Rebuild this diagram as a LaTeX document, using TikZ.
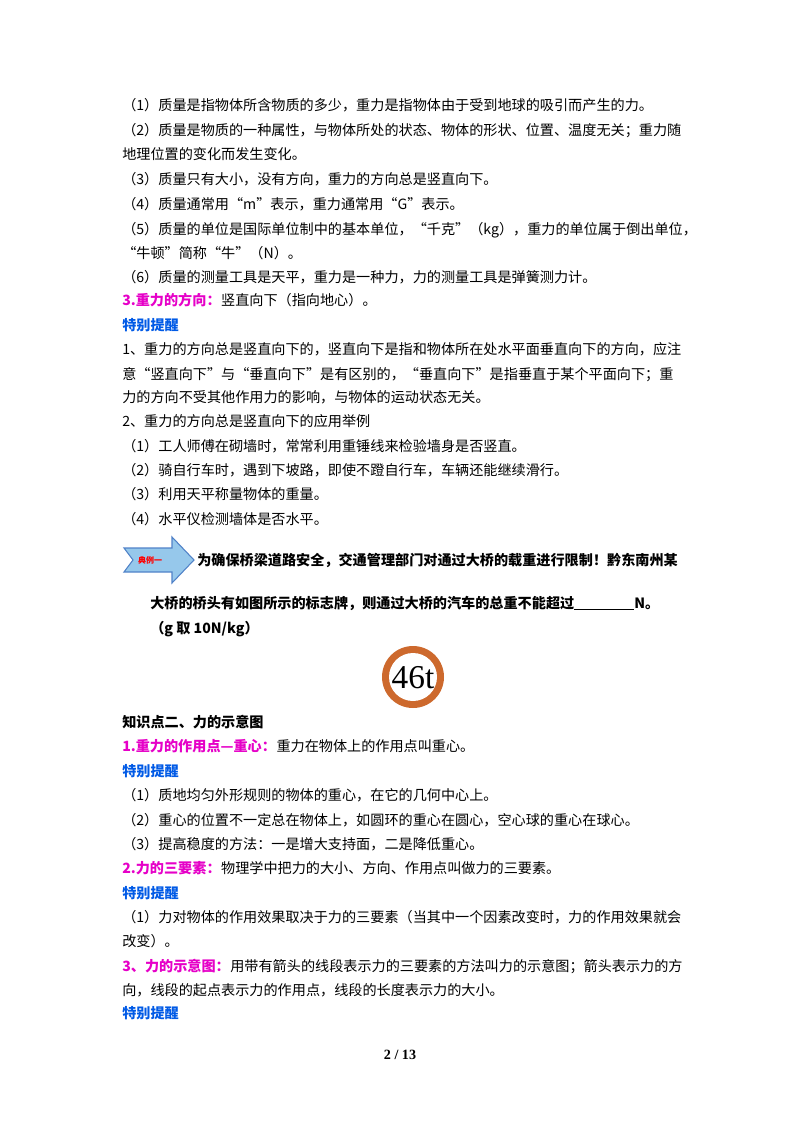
\documentclass[tikz,border=0pt]{standalone}
\usepackage{fontspec}
\setmainfont{Liberation Serif}
\newfontfamily\cjk{Noto Sans CJK SC}
\definecolor{mag}{RGB}{230,0,200}
\definecolor{tb}{RGB}{0,90,230}
\definecolor{arrowfill}{RGB}{150,200,235}
\definecolor{arrowline}{RGB}{80,130,200}
\definecolor{ring}{RGB}{205,105,45}
\begin{document}
\begin{tikzpicture}[x=0.75pt,y=-0.75pt,
  t/.style={anchor=base west,inner sep=0pt,font=\cjk\fontsize{10.6pt}{12pt}\selectfont},
  b/.style={t,font=\cjk\bfseries\fontsize{10.6pt}{12pt}\selectfont}]
\useasboundingbox (0,0) rectangle (800,1132);
\fill[white] (0,0) rectangle (800,1132);
\node[t] (l1) at (122,110) {（1）质量是指物体所含物质的多少，重力是指物体由于受到地球的吸引而产生的力。};
\node[t] (l2) at (122,135) {（2）质量是物质的一种属性，与物体所处的状态、物体的形状、位置、温度无关；重力随};
\node[t] (l3) at (122,159) {地理位置的变化而发生变化。};
\node[t] (l4) at (122,184) {（3）质量只有大小，没有方向，重力的方向总是竖直向下。};
\node[t] (l5) at (122,209) {（4）质量通常用“m”表示，重力通常用“G”表示。};
\node[t] (l6) at (122,234) {（5）质量的单位是国际单位制中的基本单位，“千克”（kg），重力的单位属于倒出单位，};
\node[t] (l7) at (122,258) {“牛顿”简称“牛”（N）。};
\node[t] (l8) at (122,282) {（6）质量的测量工具是天平，重力是一种力，力的测量工具是弹簧测力计。};
\node[b,text=mag] (l9) at (122,305) {3.重力的方向：};
\node[t] (l9b) at (l9.base east) [anchor=base west] {竖直向下（指向地心）。};
\node[b,text=tb] (l10) at (122,330) {特别提醒};
\node[t] (l11) at (122,354) {1、重力的方向总是竖直向下的，竖直向下是指和物体所在处水平面垂直向下的方向，应注};
\node[t] (l12) at (122,379) {意“竖直向下”与“垂直向下”是有区别的，“垂直向下”是指垂直于某个平面向下；重};
\node[t] (l13) at (122,402) {力的方向不受其他作用力的影响，与物体的运动状态无关。};
\node[t] (l14) at (122,426) {2、重力的方向总是竖直向下的应用举例};
\node[t] (l15) at (122,451) {（1）工人师傅在砌墙时，常常利用重锤线来检验墙身是否竖直。};
\node[t] (l16) at (122,475) {（2）骑自行车时，遇到下坡路，即使不蹬自行车，车辆还能继续滑行。};
\node[t] (l17) at (122,499) {（3）利用天平称量物体的重量。};
\node[t] (l18) at (122,524) {（4）水平仪检测墙体是否水平。};
% arrow badge
\draw[arrowline,fill=arrowfill,line width=0.8pt] (124,548) -- (172,548) -- (172,537) -- (194,560) -- (172,583) -- (172,572) -- (124,572) -- (133,560) -- cycle;
\node[inner sep=0pt,text=red,font=\cjk\bfseries\fontsize{6pt}{7pt}\selectfont] (badge) at (150,560) {典例一};
\node[b] (e1) at (197,565) {为确保桥梁道路安全，交通管理部门对通过大桥的载重进行限制！黔东南州某};
\node[b] (e2) at (150,608) {大桥的桥头有如图所示的标志牌，则通过大桥的汽车的总重不能超过\rule[-1.5pt]{45pt}{0.6pt}N。};
\node[b] (e3) at (150,633) {（g 取 10N/kg）};
% sign
\fill[ring] (413,677) circle (31);
\fill[white] (413,677) circle (24);
\node[inner sep=0pt,font=\fontsize{25pt}{28pt}\selectfont] (sign) at (413,678) {46t};
\node[b] (k0) at (122,727) {知识点二、力的示意图};
\node[b,text=mag] (k1) at (122,751) {1.重力的作用点—重心：};
\node[t] (k1b) at (k1.base east) [anchor=base west] {重力在物体上的作用点叫重心。};
\node[b,text=tb] (k2) at (122,776) {特别提醒};
\node[t] (k3) at (122,800) {（1）质地均匀外形规则的物体的重心，在它的几何中心上。};
\node[t] (k4) at (122,825) {（2）重心的位置不一定总在物体上，如圆环的重心在圆心，空心球的重心在球心。};
\node[t] (k5) at (122,849) {（3）提高稳度的方法：一是增大支持面，二是降低重心。};
\node[b,text=mag] (k6) at (122,873) {2.力的三要素：};
\node[t] (k6b) at (k6.base east) [anchor=base west] {物理学中把力的大小、方向、作用点叫做力的三要素。};
\node[b,text=tb] (k7) at (122,898) {特别提醒};
\node[t] (k8) at (122,922) {（1）力对物体的作用效果取决于力的三要素（当其中一个因素改变时，力的作用效果就会};
\node[t] (k9) at (122,946) {改变）。};
\node[b,text=mag] (k10) at (122,971) {3、力的示意图：};
\node[t] (k10b) at (k10.base east) [anchor=base west] {用带有箭头的线段表示力的三要素的方法叫力的示意图；箭头表示力的方};
\node[t] (k11) at (122,995) {向，线段的起点表示力的作用点，线段的长度表示力的大小。};
\node[b,text=tb] (k12) at (122,1018) {特别提醒};
\node[inner sep=0pt,font=\bfseries\fontsize{10.6pt}{12pt}\selectfont] (pg) at (400,1055) {2 / 13};
\end{tikzpicture}
\end{document}
